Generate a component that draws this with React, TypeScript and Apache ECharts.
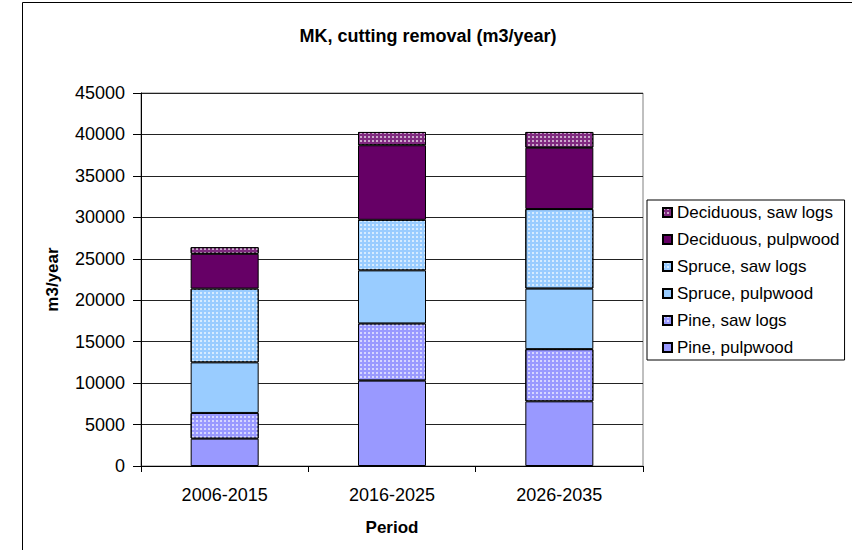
import React, { useEffect, useRef } from "react";
import * as echarts from "echarts";

const categories = ["2006-2015", "2016-2025", "2026-2035"];
const pinePulp = [3300, 10300, 7800];
const pineSaw = [3100, 6900, 6300];
const sprucePulp = [6100, 6400, 7300];
const spruceSaw = [8900, 6100, 9600];
const decidPulp = [4200, 9000, 7400];
const decidSaw = [800, 1600, 1900];

const seriesNames = [
  "Pine, pulpwood",
  "Pine, saw logs",
  "Spruce, pulpwood",
  "Spruce, saw logs",
  "Deciduous, pulpwood",
  "Deciduous, saw logs",
];
const seriesData = [pinePulp, pineSaw, sprucePulp, spruceSaw, decidPulp, decidSaw];
const seriesColors = ["#9999FF", "#9999FF", "#99CCFF", "#99CCFF", "#660066", "#802a80"];
const dotted = [false, true, false, true, false, true];

const yMin = 0;
const yMax = 45000;
const yStep = 5000;

const FONT = "'Liberation Sans', Arial, sans-serif";

export default function App() {
  const ref = useRef<HTMLDivElement>(null);
  useEffect(() => {
    if (!ref.current) return;
    const chart = echarts.init(ref.current, null, { renderer: "svg" });
    const decal = {
      symbol: "rect",
      symbolSize: 1,
      dashArrayX: [1.5, 1.5],
      dashArrayY: [1.5, 1.5],
      color: "rgba(255,255,255,0.6)",
    };
    chart.setOption({
      animation: false,
      backgroundColor: "#ffffff",
      textStyle: { fontFamily: FONT, color: "#000" },
      title: {
        text: "MK, cutting removal (m3/year)",
        left: 428,
        textAlign: "center",
        top: 27,
        padding: 0,
        textStyle: { fontFamily: FONT, fontWeight: "bold", fontSize: 18, color: "#000" },
      },
      graphic: [
        {
          type: "polyline",
          shape: { points: [[22.5, 560], [22.5, 2.5], [860, 2.5]] },
          style: { stroke: "#000", lineWidth: 1, fill: null },
          silent: true,
        },
      ],
      legend: {
        orient: "vertical",
        left: 647,
        top: 200,
        padding: [4, 5, 4, 15],
        itemWidth: 9,
        itemHeight: 9,
        itemGap: 10,
        icon: "rect",
        borderColor: "#000",
        borderWidth: 1,
        backgroundColor: "#fff",
        data: [...seriesNames].reverse(),
        textStyle: { fontFamily: FONT, fontSize: 17, color: "#000", lineHeight: 17 },
      },
      grid: {
        left: 141,
        right: 209,
        top: 93,
        bottom: 84,
        show: true,
        borderColor: "#808080",
        borderWidth: 1,
        containLabel: false,
      },
      xAxis: {
        type: "category",
        data: categories,
        name: "Period",
        nameLocation: "middle",
        nameGap: 53,
        nameTextStyle: { fontFamily: FONT, fontWeight: "bold", fontSize: 17, color: "#000" },
        axisLine: { lineStyle: { color: "#000", width: 1 } },
        axisTick: { show: true, length: 6, lineStyle: { color: "#000" } },
        axisLabel: { margin: 20, fontFamily: FONT, fontSize: 18, color: "#000" },
      },
      yAxis: {
        type: "value",
        min: yMin,
        max: yMax,
        interval: yStep,
        name: "m3/year",
        nameLocation: "middle",
        nameGap: 80,
        nameTextStyle: { fontFamily: FONT, fontWeight: "bold", fontSize: 17, color: "#000" },
        axisLine: { show: true, lineStyle: { color: "#000", width: 1 } },
        axisTick: { show: true, length: 8, lineStyle: { color: "#000" } },
        axisLabel: {
          margin: 16,
          fontFamily: FONT,
          fontSize: 18,
          color: "#000",
          formatter: (v: number) => String(v),
        },
        splitLine: { show: true, lineStyle: { color: "#222", width: 1 } },
      },
      series: seriesNames.map((name, i) => ({
        name,
        type: "bar",
        stack: "total",
        data: seriesData[i],
        barWidth: 68,
        itemStyle: {
          color: seriesColors[i],
          borderColor: "#000",
          borderWidth: 1,
          decal: dotted[i] ? decal : undefined,
        },
      })),
    });
    return () => chart.dispose();
  }, []);
  return (
    <div
      ref={ref}
      style={{ position: "fixed", left: 0, top: 0, width: 852, height: 550 }}
    />
  );
}
